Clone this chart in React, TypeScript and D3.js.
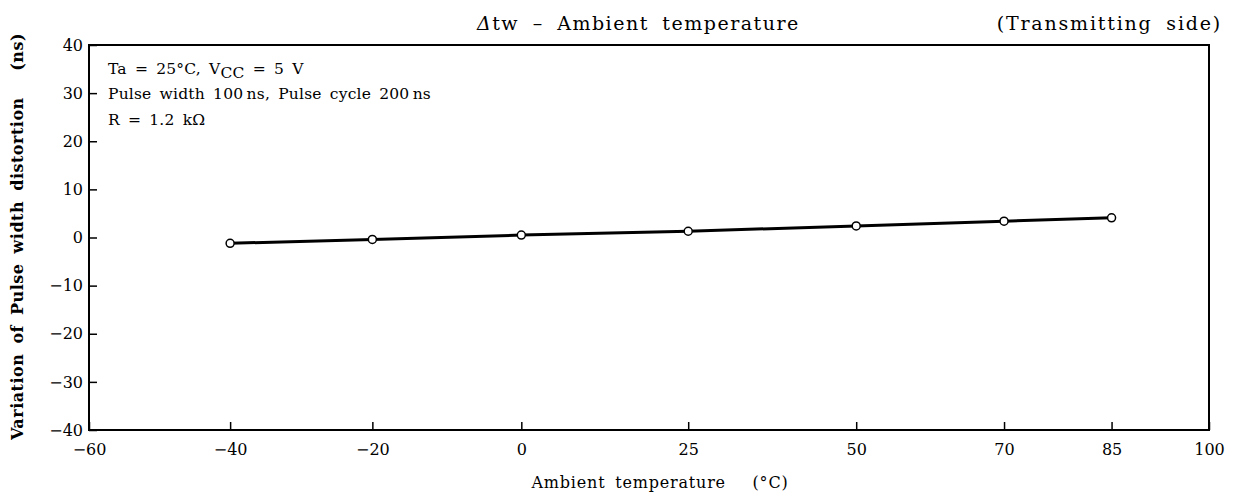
import { useEffect, useRef } from 'react';
import * as d3 from 'd3';

// temperature (°C) vs variation of pulse width distortion (ns)
const temps = [-40, -20, 0, 25, 50, 70, 85];
const distortion = [-1.2, -0.4, 0.5, 1.3, 2.4, 3.4, 4.1];

const xTicks = [-60, -40, -20, 0, 25, 50, 70, 85, 100];
const yTicks = [-40, -30, -20, -10, 0, 10, 20, 30, 40];

// the printed axis is not evenly spaced, so each tick gets its own fraction of the width
const xTickFrac = [0, 0.126, 0.253, 0.386, 0.535, 0.685, 0.817, 0.913, 1];

const W = 1236;
const H = 493;
const FONT = "'DejaVu Serif', serif";

export default function App() {
  const svgRef = useRef<SVGSVGElement>(null);

  useEffect(() => {
    if (!svgRef.current) return;
    const svg = d3.select(svgRef.current);
    svg.selectAll('*').remove();

    const margin = { top: 45, right: 27, bottom: 63, left: 89 };
    const innerW = W - margin.left - margin.right;
    const innerH = H - margin.top - margin.bottom;

    const g = svg.append('g').attr('transform', `translate(${margin.left},${margin.top})`);

    const x = d3.scaleLinear().domain(xTicks).range(xTickFrac.map(f => f * innerW));
    const y = d3.scaleLinear().domain([-40, 40]).range([innerH, 0]);

    // frame
    g.append('rect')
      .attr('width', innerW)
      .attr('height', innerH)
      .attr('fill', 'none')
      .attr('stroke', '#000')
      .attr('stroke-width', 2);

    const fmt = (d: d3.NumberValue) => (+d < 0 ? `\u2212${Math.abs(+d)}` : `${d}`);

    // x axis (ticks pointing inward)
    const xAxis = g.append('g')
      .attr('transform', `translate(0,${innerH})`)
      .call(d3.axisBottom(x).tickValues(xTicks).tickSizeInner(-8).tickSizeOuter(0).tickPadding(14).tickFormat(fmt));
    xAxis.select('.domain').remove();
    xAxis.selectAll('line').attr('stroke', '#000').attr('stroke-width', 1.5);
    xAxis.selectAll('text')
      .attr('font-family', FONT)
      .attr('font-size', 16)
      .attr('fill', '#000');

    const yAxis = g.append('g')
      .call(d3.axisLeft(y).tickValues(yTicks).tickSizeInner(-8).tickSizeOuter(0).tickPadding(6).tickFormat(fmt));
    yAxis.select('.domain').remove();
    yAxis.selectAll('line').attr('stroke', '#000').attr('stroke-width', 1.5);
    yAxis.selectAll('text')
      .attr('font-family', FONT)
      .attr('font-size', 16)
      .attr('fill', '#000');

    // data line
    const pts = temps.map((t, i) => [t, distortion[i]] as [number, number]);
    g.append('path')
      .datum(pts)
      .attr('fill', 'none')
      .attr('stroke', '#000')
      .attr('stroke-width', 3)
      .attr('d', d3.line<[number, number]>().x(d => x(d[0])).y(d => y(d[1])));

    g.selectAll('.pt')
      .data(pts)
      .enter()
      .append('circle')
      .attr('class', 'pt')
      .attr('cx', d => x(d[0]))
      .attr('cy', d => y(d[1]))
      .attr('r', 4)
      .attr('fill', '#fff')
      .attr('stroke', '#000')
      .attr('stroke-width', 1.5);

    // conditions text
    const cond = g.append('g')
      .attr('font-family', FONT)
      .attr('font-size', 15.5)
      .attr('letter-spacing', 0.2)
      .attr('word-spacing', 3)
      .attr('fill', '#000');
    const l1 = cond.append('text').attr('x', 19).attr('y', 29);
    l1.append('tspan').text('Ta = 25\u00b0C, V');
    l1.append('tspan').attr('dy', 4).text('CC');
    l1.append('tspan').attr('dy', -4).text(' = 5 V');
    cond.append('text').attr('x', 19).attr('y', 54).text('Pulse width 100\u2009ns, Pulse cycle 200\u2009ns');
    cond.append('text').attr('x', 19).attr('y', 80).text('R = 1.2 k\u03a9');

    // titles
    const title = svg.append('text')
      .attr('x', 477)
      .attr('y', 30)
      .attr('font-family', FONT)
      .attr('font-size', 19)
      .attr('letter-spacing', 1.5)
      .attr('word-spacing', 6)
      .attr('fill', '#000');
    title.append('tspan').attr('font-style', 'italic').text('\u0394');
    title.append('tspan').text('tw  \u2013  Ambient temperature');

    svg.append('text')
      .attr('x', 1222)
      .attr('y', 30)
      .attr('text-anchor', 'end')
      .attr('font-family', FONT)
      .attr('font-size', 19)
      .attr('letter-spacing', 1.8)
      .attr('word-spacing', 6)
      .attr('fill', '#000')
      .text('(Transmitting side)');

    svg.append('text')
      .attr('x', 660)
      .attr('y', 488)
      .attr('text-anchor', 'middle')
      .attr('font-family', FONT)
      .attr('font-size', 16)
      .attr('letter-spacing', 0.8)
      .attr('word-spacing', 4)
      .attr('fill', '#000')
      .text('Ambient temperature\u2003 (\u00b0C)');

    svg.append('text')
      .attr('transform', `translate(23,${margin.top + y(0) - 1}) rotate(-90)`)
      .attr('text-anchor', 'middle')
      .attr('font-family', FONT)
      .attr('font-size', 16)
      .attr('font-weight', 'bold')
      .attr('letter-spacing', 0.5)
      .attr('word-spacing', 4)
      .attr('fill', '#000')
      .text('Variation of Pulse width distortion\u2003 (ns)');
  }, []);

  return (
    <svg
      ref={svgRef}
      width={W}
      height={H}
      style={{ position: 'absolute', left: 0, top: 0, background: '#fff' }}
    />
  );
}
